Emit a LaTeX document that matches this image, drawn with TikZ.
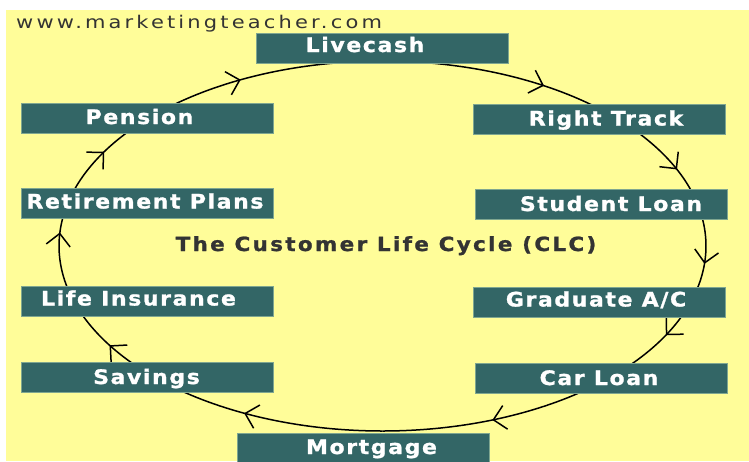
\documentclass[tikz,border=0pt]{standalone}
\usepackage{fontspec}
\usetikzlibrary{arrows.meta,calc,decorations.markings}
\newfontfamily\boxfont[FakeStretch=1.1,FakeBold=1.2,LetterSpace=8]{DejaVu Sans}
\newfontfamily\titlefont[FakeStretch=1.1,FakeBold=1.2,LetterSpace=12]{DejaVu Sans}
\newfontfamily\urlfont[FakeStretch=1.2,LetterSpace=18]{DejaVu Sans}
\definecolor{paper}{HTML}{FFFD99}
\definecolor{teal}{HTML}{336666}
\definecolor{rim}{HTML}{7FA690}
\definecolor{ink}{HTML}{333333}
\begin{document}
\begin{tikzpicture}[x=1pt,y=-1pt,
  stagebox/.style={rectangle,fill=teal,draw=rim,line width=0.8pt,
    minimum width=252pt,minimum height=30pt,inner sep=0pt},
  stagetext/.style={anchor=base,inner sep=0pt,text=white,
    font=\boxfont\bfseries\fontsize{20}{23}\selectfont},
  cycle/.style={draw=black,line width=1.5pt},
  ring/.style={x radius=323.5,y radius=185},
  flow/.style={postaction={decorate,decoration={markings,
    mark=at position #1 with {\arrow[line width=1.5pt]{Straight Barb[angle=90:17pt]}}}}}
]
\useasboundingbox (0,0) rectangle (749,461);
\clip (0,0) rectangle (749,461);
% page and panel
\fill[white] (0,0) rectangle (749,461);
\fill[paper] (6,10) rectangle (749,461);

% the life-cycle ellipse: centre and one point per stage
\coordinate (c) at (382.5,246);
\coordinate (p-live)    at ($(c)+(-90:323.5 and 185)$);
\coordinate (p-right)   at ($(c)+(-43.4:323.5 and 185)$);
\coordinate (p-student) at ($(c)+(-13.1:323.5 and 185)$);
\coordinate (p-grad)    at ($(c)+(17.6:323.5 and 185)$);
\coordinate (p-car)     at ($(c)+(45.5:323.5 and 185)$);
\coordinate (p-mort)    at ($(c)+(90:323.5 and 185)$);
\coordinate (p-sav)     at ($(c)+(134.9:323.5 and 185)$);
\coordinate (p-life)    at ($(c)+(162.7:323.5 and 185)$);
\coordinate (p-ret)     at ($(c)+(193.4:323.5 and 185)$);
\coordinate (p-pen)     at ($(c)+(223.8:323.5 and 185)$);

% connectors, clockwise
\draw[cycle,flow=0.67] (p-live)    arc[ring,start angle=-90,  end angle=-43.4];
\draw[cycle,flow=0.66] (p-right)   arc[ring,start angle=-43.4,end angle=-13.1];
\draw[cycle,flow=0.60] (p-student) arc[ring,start angle=-13.1,end angle=17.6];
\draw[cycle,flow=0.37] (p-grad)    arc[ring,start angle=17.6, end angle=45.5];
\draw[cycle,flow=0.53] (p-car)     arc[ring,start angle=45.5, end angle=90];
\draw[cycle,flow=0.59] (p-mort)    arc[ring,start angle=90,   end angle=134.9];
\draw[cycle,flow=0.49] (p-sav)     arc[ring,start angle=134.9,end angle=162.7];
\draw[cycle,flow=0.70] (p-life)    arc[ring,start angle=162.7,end angle=193.4];
\draw[cycle,flow=0.53] (p-ret)     arc[ring,start angle=193.4,end angle=223.8];
\draw[cycle,flow=0.41] (p-pen)     arc[ring,start angle=223.8,end angle=270];

% stage boxes
\node[stagebox] (livecash) at (382,48)    {};
\node[stagebox] (right)    at (599,119)   {};
\node[stagebox] (student)  at (601.5,204.5) {};
\node[stagebox] (grad)     at (599,302)   {};
\node[stagebox] (car)      at (601.5,378) {};
\node[stagebox] (mortgage) at (363.5,448) {};
\node[stagebox] (savings)  at (147,377)   {};
\node[stagebox] (life)     at (147,301)   {};
\node[stagebox] (retire)   at (147,203)   {};
\node[stagebox] (pension)  at (147,118)   {};

% stage labels
\node[stagetext] (livecash-t) at (365,52)    {Livecash};
\node[stagetext] (right-t)    at (606,125.5) {Right Track};
\node[stagetext] (student-t)  at (611,211)   {Student Loan};
\node[stagetext] (grad-t)     at (596,306.5) {Graduate A/C};
\node[stagetext] (car-t)      at (599,385)   {Car Loan};
\node[stagetext] (mortgage-t) at (371.5,454) {Mortgage};
\node[stagetext] (savings-t)  at (146.5,384) {Savings};
\node[stagetext] (life-t)     at (138.5,305.5) {Life Insurance};
\node[stagetext] (retire-t)   at (145,208.5) {Retirement Plans};
\node[stagetext] (pension-t)  at (139.5,124) {Pension};

% title and source
\node[anchor=base,inner sep=0pt,text=ink,font=\titlefont\bfseries\fontsize{19.5}{22}\selectfont]
  (title) at (386,251) {The Customer Life Cycle (CLC)};
\node[anchor=base west,inner sep=0pt,text=ink,font=\urlfont\fontsize{17.5}{20}\selectfont]
  (source) at (16,28) {www.marketingteacher.com};
\end{tikzpicture}
\end{document}
